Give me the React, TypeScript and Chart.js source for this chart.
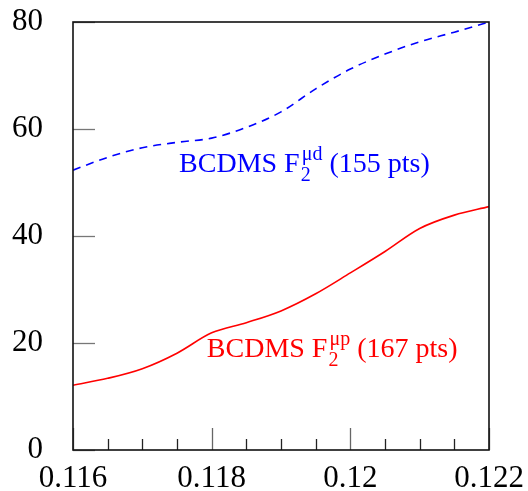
import { useEffect, useRef } from 'react';
import { Chart, registerables } from 'chart.js';

Chart.register(...registerables);

// ---- data ----
const xValues = [0.116, 0.1165, 0.117, 0.1175, 0.118, 0.1185, 0.119, 0.1195, 0.12, 0.1205, 0.121, 0.1215, 0.122];
const bcdmsMuD = [52.3, 54.7, 56.5, 57.5, 58.3, 60.3, 63.2, 67.5, 71.2, 74.0, 76.3, 78.1, 80.0];
const bcdmsMuP = [12.1, 13.4, 15.2, 18.1, 21.9, 23.8, 26.0, 29.2, 33.1, 37.1, 41.4, 43.9, 45.5];

const xTickValues = [0.116, 0.118, 0.12, 0.122];
const xTickLabels = ['0.116', '0.118', '0.12', '0.122'];
const xMinorStep = 0.0005;
const yTickValues = [0, 20, 40, 60, 80];

const labelMain = ['BCDMS F', 'BCDMS F'];
const labelSub = ['2', '2'];
const labelSup = ['\u03bcd', '\u03bcp'];
const labelTail = [' (155 pts)', ' (167 pts)'];
// annotation anchors in data units
const labelAnchorX = [0.11753, 0.11793];
const labelAnchorY = [52.0, 17.4];
const labelColors = ['#0000ff', '#ff0000'];

const SERIF = '"Liberation Serif", "Times New Roman", serif';

const framePlugin = {
  id: 'frameAndTicks',
  afterDraw(chart: any) {
    const { ctx, chartArea: a, scales } = chart;
    const xs = scales.x;
    const ys = scales.y;
    ctx.save();
    const xmin = xs.min, xmax = xs.max;
    const n = Math.round((xmax - xmin) / xMinorStep);
    for (let i = 0; i <= n; i++) {
      const v = xmin + i * xMinorStep;
      const isMajor = xTickValues.some((t) => Math.abs(t - v) < 1e-7);
      const px = Math.round(xs.getPixelForValue(v)) + 0.5;
      ctx.beginPath();
      ctx.strokeStyle = isMajor ? '#666' : '#222';
      ctx.lineWidth = 1.3;
      ctx.moveTo(px, a.bottom);
      ctx.lineTo(px, a.bottom - (isMajor ? 22 : 11));
      ctx.stroke();
    }
    for (const v of yTickValues) {
      const py = Math.round(ys.getPixelForValue(v)) + 0.5;
      ctx.beginPath();
      ctx.strokeStyle = '#777';
      ctx.lineWidth = 1.3;
      ctx.moveTo(a.left, py);
      ctx.lineTo(a.left + 22, py);
      ctx.stroke();
    }
    ctx.strokeStyle = '#111';
    ctx.lineWidth = 1.6;
    ctx.strokeRect(a.left, a.top, a.right - a.left, a.bottom - a.top);

    for (let i = 0; i < labelMain.length; i++) {
      const x0 = xs.getPixelForValue(labelAnchorX[i]);
      const y0 = ys.getPixelForValue(labelAnchorY[i]);
      ctx.fillStyle = labelColors[i];
      ctx.textBaseline = 'alphabetic';
      ctx.textAlign = 'left';
      ctx.font = `28px ${SERIF}`;
      ctx.fillText(labelMain[i], x0, y0);
      let x = x0 + ctx.measureText(labelMain[i]).width + 1;
      ctx.font = `20px ${SERIF}`;
      ctx.fillText(labelSub[i], x, y0 + 9);
      ctx.fillText(labelSup[i], x + 1, y0 - 12);
      const w = Math.max(ctx.measureText(labelSub[i]).width, ctx.measureText(labelSup[i]).width);
      x += w + 1;
      ctx.font = `28px ${SERIF}`;
      ctx.fillText(labelTail[i], x, y0);
    }
    ctx.restore();
  },
};

const zeroPad = (scale: any) => {
  scale.paddingTop = 0;
  scale.paddingBottom = 0;
  scale.paddingLeft = 0;
  scale.paddingRight = 0;
};

export default function App() {
  const ref = useRef<HTMLCanvasElement | null>(null);
  useEffect(() => {
    if (!ref.current) return;
    const chart = new Chart(ref.current, {
      type: 'line',
      data: {
        datasets: [
          {
            label: 'BCDMS F2 mu d',
            data: xValues.map((x, i) => ({ x, y: bcdmsMuD[i] })),
            borderColor: '#0000ff',
            borderWidth: 1.6,
            borderDash: [8, 6],
            pointRadius: 0,
            cubicInterpolationMode: 'monotone',
            fill: false,
          },
          {
            label: 'BCDMS F2 mu p',
            data: xValues.map((x, i) => ({ x, y: bcdmsMuP[i] })),
            borderColor: '#ff0000',
            borderWidth: 1.6,
            pointRadius: 0,
            cubicInterpolationMode: 'monotone',
            fill: false,
          },
        ],
      },
      options: {
        animation: false,
        responsive: false,
        maintainAspectRatio: false,
        layout: { padding: { left: 0, right: 39, top: 22, bottom: 0 } },
        plugins: { legend: { display: false }, tooltip: { enabled: false } },
        scales: {
          x: {
            type: 'linear',
            min: 0.116,
            max: 0.122,
            grid: { display: false, drawTicks: false },
            border: { display: false },
            afterBuildTicks: (scale: any) => {
              scale.ticks = xTickValues.map((v) => ({ value: v }));
            },
            afterFit: (scale: any) => {
              scale.height = 41;
              zeroPad(scale);
            },
            ticks: {
              color: '#000',
              padding: 10,
              maxRotation: 0,
              autoSkip: false,
              font: { family: SERIF, size: 31 },
              callback: (v: any) => {
                const i = xTickValues.findIndex((t) => Math.abs(t - Number(v)) < 1e-7);
                return i >= 0 ? xTickLabels[i] : '';
              },
            },
          },
          y: {
            type: 'linear',
            min: 0,
            max: 80,
            grid: { display: false, drawTicks: false },
            border: { display: false },
            afterBuildTicks: (scale: any) => {
              scale.ticks = yTickValues.map((v) => ({ value: v }));
            },
            afterFit: (scale: any) => {
              scale.width = 73;
              zeroPad(scale);
            },
            ticks: {
              color: '#000',
              padding: 30,
              font: { family: SERIF, size: 31 },
              callback: (v: any) => String(v),
            },
          },
        },
      },
      plugins: [framePlugin],
    } as any);
    return () => chart.destroy();
  }, []);

  return (
    <div style={{ position: 'fixed', left: 0, top: 0, width: 528, height: 491, background: '#fff' }}>
      <canvas ref={ref} width={528} height={491} style={{ width: 528, height: 491, display: 'block' }} />
    </div>
  );
}
